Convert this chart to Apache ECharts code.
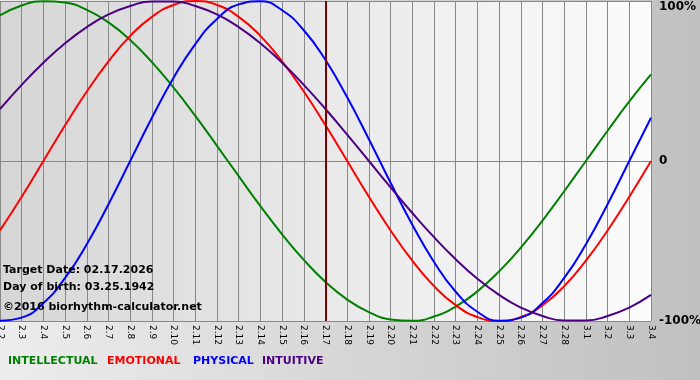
<!DOCTYPE html>
<html>
<head>
<meta charset="utf-8">
<script src="https://cdn.jsdelivr.net/npm/echarts@6/dist/echarts.min.js"></script>
<style>
html,body{margin:0;padding:0;}
#c{width:700px;height:380px;}
</style>
</head>
<body>
<div id="c"></div>
<script>
const dates = ['2.2','2.3','2.4','2.5','2.6','2.7','2.8','2.9','2.10','2.11','2.12','2.13','2.14','2.15','2.16','2.17','2.18','2.19','2.20','2.21','2.22','2.23','2.24','2.25','2.26','2.27','2.28','3.1','3.2','3.3','3.4'];
const intellectual = [91.0,97.2,99.9,99.0,94.5,86.6,75.6,61.8,45.8,28.2,9.5,-9.5,-28.2,-45.8,-61.8,-75.6,-86.6,-94.5,-99.0,-99.9,-97.2,-91.0,-81.5,-69.0,-54.1,-37.2,-18.9,0,18.9,37.2,54.1];
const emotional = [-43.4,-22.3,0,22.3,43.4,62.3,78.2,90.1,97.5,100,97.5,90.1,78.2,62.3,43.4,22.3,0,-22.3,-43.4,-62.3,-78.2,-90.1,-97.5,-100,-97.5,-90.1,-78.2,-62.3,-43.4,-22.3,0];
const physical = [-99.8,-97.9,-88.8,-73.1,-52.0,-27.0,0,27.0,52.0,73.1,88.8,97.9,99.8,94.2,81.7,63.1,39.8,13.6,-13.6,-39.8,-63.1,-81.7,-94.2,-99.8,-97.9,-88.8,-73.1,-52.0,-27.0,0,27.0];
const intuitive = [32.5,47.6,61.4,73.6,83.7,91.6,96.9,99.7,99.7,96.9,91.6,83.7,73.6,61.4,47.6,32.5,16.5,0,-16.5,-32.5,-47.6,-61.4,-73.6,-83.7,-91.6,-96.9,-99.7,-99.7,-96.9,-91.6,-83.7];
const targetDate = '2.17';
const yTicks = {'100':'100%','0':'0','-100':'-100%'};
const legendNames = ['INTELLECTUAL','EMOTIONAL','PHYSICAL','INTUITIVE'];
const colors = ['#008000','#ff0000','#0000ff','#4b0082'];
const infoLines = ['Target Date: 02.17.2026','Day of birth: 03.25.1942','©2016 biorhythm-calculator.net'];

const FONT = '"DejaVu Sans",Verdana,sans-serif';
const chart = echarts.init(document.getElementById('c'));
const seriesData = [intellectual, emotional, physical, intuitive];
const series = seriesData.map((d, i) => ({
  name: legendNames[i],
  type: 'line',
  data: d,
  smooth: true,
  symbol: 'none',
  lineStyle: {color: colors[i], width: 2},
  itemStyle: {color: colors[i]},
  z: 3
}));
series.push({
  type: 'line',
  data: [],
  z: 2,
  markLine: {
    silent: true,
    symbol: 'none',
    label: {show: false},
    lineStyle: {color: '#800000', width: 2, type: 'solid'},
    data: [{xAxis: targetDate}]
  }
});

const legendX = [8, 107, 193, 262];
const graphics = [];
legendNames.forEach((n, i) => {
  graphics.push({type: 'text', left: legendX[i], top: 356, z: 10,
    style: {text: n, fill: colors[i], font: 'bold 11px ' + FONT}});
});
const infoY = [265, 282, 302];
infoLines.forEach((t, i) => {
  graphics.push({type: 'text', left: 3, top: infoY[i], z: 10,
    style: {text: t, fill: '#000', font: 'bold 11px ' + FONT}});
});

chart.setOption({
  animation: false,
  backgroundColor: new echarts.graphic.LinearGradient(0, 0, 1, 0, [
    {offset: 0, color: '#ededed'}, {offset: 1, color: '#c0c0c0'}]),
  grid: {
    left: 0, right: 49, top: 1, bottom: 59,
    containLabel: false,
    outerBoundsMode: 'none',
    show: true,
    borderWidth: 0,
    backgroundColor: new echarts.graphic.LinearGradient(0, 0, 1, 0, [
      {offset: 0, color: '#d6d6d6'}, {offset: 1, color: '#fcfcfc'}])
  },
  xAxis: {
    type: 'category',
    data: dates,
    boundaryGap: false,
    axisLine: {show: true, lineStyle: {color: '#888', width: 1}},
    axisTick: {show: true, length: 3, lineStyle: {color: '#888'}},
    splitLine: {show: true, lineStyle: {color: '#888', width: 1}},
    axisLabel: {rotate: -90, interval: 0, margin: 4, color: '#000', fontSize: 9, fontFamily: FONT}
  },
  yAxis: {
    type: 'value',
    position: 'right',
    min: -100, max: 100, interval: 100,
    axisLine: {show: false},
    axisTick: {show: false},
    splitLine: {show: true, lineStyle: {color: '#888', width: 1}},
    axisLabel: {
      margin: 8,
      color: '#000',
      fontSize: 12,
      fontWeight: 'bold',
      fontFamily: FONT,
      verticalAlignMaxLabel: 'top',
      formatter: v => yTicks[String(v)]
    }
  },
  graphic: graphics,
  series: series
});
</script>
</body>
</html>
